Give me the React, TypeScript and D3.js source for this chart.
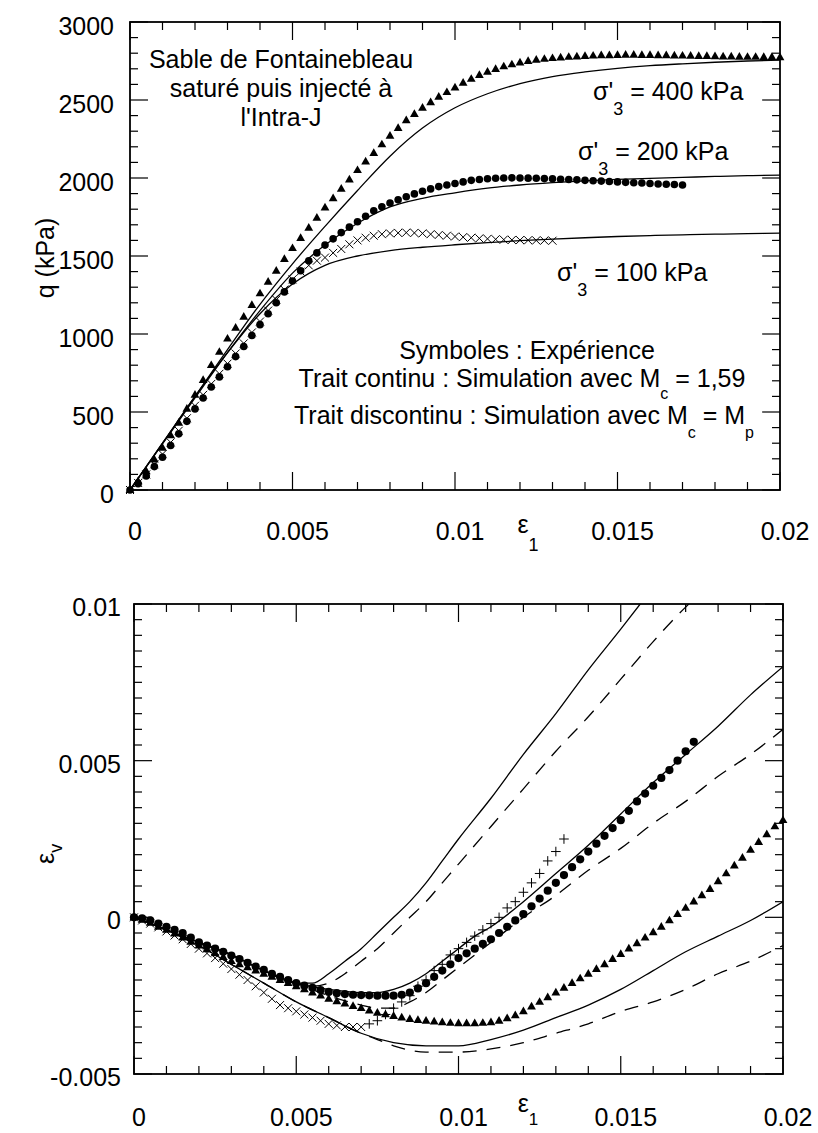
import React from "react";
import * as d3 from "d3";

// ---------- DATA ----------
// experimental strain sampling (ε1)
const STRAIN: number[] = [0,0.00025,0.0005,0.00075,0.001,0.00125,0.0015,0.00175,0.002,0.00225,0.0025,0.00275,0.003,0.00325,0.0035,0.00375,0.004,0.00425,0.0045,0.00475,0.005,0.00525,0.0055,0.00575,0.006,0.00625,0.0065,0.00675,0.007,0.00725,0.0075,0.00775,0.008,0.00825,0.0085,0.00875,0.009,0.00925,0.0095,0.00975,0.01,0.01025,0.0105,0.01075,0.011,0.01125,0.0115,0.01175,0.012,0.01225,0.0125,0.01275,0.013,0.01325,0.0135,0.01375,0.014,0.01425,0.0145,0.01475,0.015,0.01525,0.0155,0.01575,0.016,0.01625,0.0165,0.01675,0.017,0.01725,0.0175,0.01775,0.018,0.01825,0.0185,0.01875,0.019,0.01925,0.0195,0.01975,0.02];

// top chart: q (kPa) measured
const Q_400: number[] = [0,55,120,195,270,350,430,520,610,705,800,885,970,1040,1110,1185,1260,1335,1405,1480,1550,1615,1680,1745,1810,1870,1930,1990,2050,2105,2160,2215,2270,2320,2370,2410,2450,2485,2520,2550,2580,2610,2635,2660,2680,2698,2715,2728,2740,2750,2757,2763,2768,2772,2776,2779,2782,2784,2786,2787,2788,2789,2789,2788,2788,2787,2786,2785,2784,2783,2782,2781,2780,2779,2778,2777,2776,2776,2775,2775,2774];
const Q_200: number[] = [0,40,90,150,210,285,360,440,520,590,660,725,790,855,920,990,1060,1130,1200,1270,1340,1405,1470,1520,1570,1610,1650,1685,1720,1755,1790,1815,1840,1860,1880,1898,1915,1930,1945,1955,1965,1975,1985,1990,1995,1998,2000,2001,2000,1999,1998,1996,1995,1992,1990,1988,1985,1982,1980,1978,1975,1972,1970,1968,1965,1962,1960,1958,1955];
const Q_100: number[] = [0,45,100,165,230,305,380,460,540,610,680,745,810,875,940,1010,1080,1150,1220,1285,1350,1400,1440,1470,1490,1520,1545,1575,1600,1617,1630,1640,1645,1648,1650,1648,1645,1640,1635,1630,1625,1621,1617,1613,1610,1607,1605,1603,1602,1601,1600,1599,1598];

// top chart: simulations (Mc = 1,59)
const SIM_STRAIN: number[] = [0,0.001,0.002,0.003,0.004,0.005,0.006,0.007,0.008,0.009,0.01,0.011,0.012,0.013,0.014,0.015,0.016,0.017,0.018,0.019,0.02];
const SIM_Q_400: number[] = [0,300,600,900,1190,1450,1690,1920,2140,2320,2450,2540,2605,2650,2680,2703,2720,2732,2742,2750,2755];
const SIM_Q_200: number[] = [0,295,590,880,1150,1390,1570,1710,1815,1870,1905,1935,1955,1970,1982,1991,1998,2004,2010,2015,2019];
const SIM_Q_100: number[] = [0,300,600,880,1130,1320,1440,1500,1535,1556,1572,1586,1598,1608,1617,1625,1631,1636,1640,1643,1646];

// bottom chart: εv measured
const EV_200: number[] = [0,-0.00003,-0.0001,-0.0002,-0.0003,-0.0004,-0.0005,-0.00065,-0.0008,-0.0009,-0.001,-0.0011,-0.00122,-0.00133,-0.00145,-0.00157,-0.00168,-0.0018,-0.0019,-0.002,-0.0021,-0.00218,-0.00225,-0.00232,-0.00238,-0.00242,-0.00245,-0.00247,-0.00248,-0.00249,-0.0025,-0.0025,-0.0025,-0.00247,-0.0024,-0.00227,-0.0021,-0.0019,-0.0017,-0.0015,-0.0013,-0.00115,-0.001,-0.00085,-0.0007,-0.0005,-0.0003,-0.0001,0.0001,0.00035,0.0006,0.00085,0.0011,0.00135,0.0016,0.00185,0.0021,0.00235,0.0026,0.00285,0.0031,0.0034,0.0037,0.00395,0.0042,0.00445,0.0047,0.005,0.0053,0.0056];
const EV_100: number[] = [0,-0.0001,-0.0002,-0.00032,-0.00045,-0.00058,-0.0007,-0.00085,-0.001,-0.00115,-0.0013,-0.00148,-0.00165,-0.00183,-0.002,-0.0022,-0.0024,-0.0026,-0.0028,-0.0029,-0.003,-0.0031,-0.0032,-0.0033,-0.0034,-0.00345,-0.0035,-0.0035,-0.0035,-0.0034,-0.0033,-0.0031,-0.0029,-0.0027,-0.0025,-0.0022,-0.002,-0.0017,-0.0015,-0.0012,-0.001,-0.0008,-0.0006,-0.0004,-0.0002,0,0.0003,0.0005,0.0008,0.0011,0.0014,0.0018,0.0021,0.0025];
const EV_400: number[] = [0,-0.00008,-0.00018,-0.0003,-0.0004,-0.00052,-0.00065,-0.00078,-0.0009,-0.00102,-0.00115,-0.00127,-0.0014,-0.0015,-0.0016,-0.0017,-0.0018,-0.0019,-0.002,-0.0021,-0.0022,-0.0023,-0.0024,-0.0025,-0.0026,-0.00268,-0.00275,-0.00283,-0.0029,-0.00298,-0.00305,-0.0031,-0.00315,-0.0032,-0.00325,-0.00328,-0.0033,-0.00333,-0.00335,-0.00337,-0.00338,-0.00338,-0.00338,-0.00337,-0.00335,-0.0033,-0.00322,-0.00313,-0.003,-0.00285,-0.0027,-0.00255,-0.0024,-0.00225,-0.0021,-0.00195,-0.0018,-0.00165,-0.0015,-0.00133,-0.00117,-0.001,-0.00083,-0.00065,-0.00048,-0.0003,-0.0001,0.0001,0.0003,0.0005,0.0007,0.0009,0.00115,0.0014,0.00165,0.0019,0.00215,0.0024,0.00265,0.0029,0.0031];

// bottom chart: simulations
const A_STRAIN: number[] = [0,0.001,0.002,0.003,0.004,0.005,0.0055,0.006,0.0065,0.007,0.0075,0.008,0.0085,0.009,0.0095,0.01,0.011,0.012,0.013,0.014,0.015,0.0156];
const A_EV: number[] = [0,-0.0004,-0.0008,-0.0012,-0.0017,-0.0021,-0.0021,-0.0018,-0.0014,-0.001,-0.0005,0,0.0005,0.0011,0.0018,0.0025,0.0038,0.0052,0.0065,0.0079,0.0092,0.01];
const AD_STRAIN: number[] = [0,0.001,0.002,0.003,0.004,0.005,0.0055,0.006,0.0065,0.007,0.0075,0.008,0.0085,0.009,0.0095,0.01,0.011,0.012,0.013,0.014,0.015,0.016,0.017,0.0171];
const AD_EV: number[] = [0,-0.0004,-0.0008,-0.0012,-0.0017,-0.0021,-0.0022,-0.0021,-0.0018,-0.0014,-0.001,-0.0005,0,0.0005,0.0011,0.0017,0.0029,0.0041,0.0053,0.0064,0.0076,0.0088,0.0099,0.01];
const B_STRAIN: number[] = [0,0.001,0.002,0.003,0.004,0.005,0.006,0.007,0.0075,0.008,0.0085,0.009,0.0095,0.01,0.0105,0.011,0.012,0.013,0.014,0.015,0.016,0.017,0.018,0.019,0.02];
const B_EV: number[] = [0,-0.0004,-0.0008,-0.0012,-0.0017,-0.0021,-0.0023,-0.0024,-0.0024,-0.0023,-0.0021,-0.0018,-0.0014,-0.001,-0.0006,-0.0003,0.0005,0.0014,0.0023,0.0033,0.0043,0.0052,0.0061,0.0071,0.008];
const BD_STRAIN: number[] = [0,0.001,0.002,0.003,0.004,0.005,0.006,0.007,0.0075,0.008,0.0085,0.009,0.0095,0.01,0.0105,0.011,0.0115,0.012,0.013,0.014,0.015,0.016,0.017,0.018,0.019,0.02];
const BD_EV: number[] = [0,-0.0004,-0.0008,-0.0012,-0.0017,-0.0021,-0.0025,-0.0028,-0.0029,-0.0029,-0.0027,-0.0024,-0.002,-0.0016,-0.0012,-0.0008,-0.0004,0,0.0007,0.0015,0.0022,0.003,0.0037,0.0045,0.0052,0.006];
const C_STRAIN: number[] = [0,0.001,0.002,0.003,0.004,0.005,0.006,0.007,0.008,0.009,0.0095,0.01,0.011,0.012,0.013,0.014,0.015,0.016,0.017,0.018,0.019,0.02];
const C_EV: number[] = [0,-0.0004,-0.0009,-0.0015,-0.0021,-0.0027,-0.0032,-0.0037,-0.004,-0.0041,-0.0041,-0.0041,-0.0039,-0.0036,-0.0032,-0.0028,-0.0023,-0.0017,-0.0011,-0.0006,-0.0001,0.0005];
const CD_STRAIN: number[] = [0,0.001,0.002,0.003,0.004,0.005,0.006,0.007,0.0075,0.008,0.009,0.01,0.011,0.012,0.013,0.014,0.015,0.016,0.017,0.018,0.019,0.02];
const CD_EV: number[] = [0,-0.0004,-0.0009,-0.0015,-0.0021,-0.0027,-0.0032,-0.0037,-0.0039,-0.0041,-0.0043,-0.0043,-0.0042,-0.004,-0.0037,-0.0034,-0.003,-0.0027,-0.0023,-0.0018,-0.0014,-0.0009];

// tick labels
const X_TICKS: number[] = [0, 0.005, 0.01, 0.015, 0.02];
const X_TICK_LABELS: string[] = ["0", "0.005", "0.01", "0.015", "0.02"];
const Q_TICKS: number[] = [0, 500, 1000, 1500, 2000, 2500, 3000];
const Q_TICK_LABELS: string[] = ["0", "500", "1000", "1500", "2000", "2500", "3000"];
const EV_TICKS: number[] = [-0.005, 0, 0.005, 0.01];
const EV_TICK_LABELS: string[] = ["-0.005", "0", "0.005", "0.01"];

// ---------- DRAWING ----------
const FONT = "'Liberation Sans', Arial, Helvetica, sans-serif";
const W = 818, H = 1133;

type Scale = d3.ScaleLinear<number, number>;

function zip(xs: number[], ys: number[]): [number, number][] {
  return ys.map((v, i) => [xs[i], v] as [number, number]);
}

function Frame({ x, y, xMinor, xMajor, yMinor, yMajor }: { x: Scale; y: Scale; xMinor: number; xMajor: number; yMinor: number; yMajor: number }) {
  const [xa, xb] = x.range();
  const [ya, yb] = y.range();
  const xd = x.domain(), yd = y.domain();
  const xt = d3.range(0, Math.round((xd[1] - xd[0]) / xMinor) + 1).map((i) => xd[0] + i * xMinor);
  const yt = d3.range(0, Math.round((yd[1] - yd[0]) / yMinor) + 1).map((i) => yd[0] + i * yMinor);
  const isMaj = (v: number, m: number) => Math.abs(v / m - Math.round(v / m)) < 1e-6;
  const top = Math.min(ya, yb), bot = Math.max(ya, yb);
  const els: JSX.Element[] = [];
  xt.forEach((v, i) => {
    const px = x(v);
    const L = isMaj(v, xMajor) ? 18 : 8;
    els.push(<line key={"xb" + i} x1={px} x2={px} y1={bot} y2={bot - L} />);
    els.push(<line key={"xt" + i} x1={px} x2={px} y1={top} y2={top + L} />);
  });
  yt.forEach((v, i) => {
    const py = y(v);
    const L = isMaj(v, yMajor) ? 18 : 8;
    els.push(<line key={"yl" + i} x1={xa} x2={xa + L} y1={py} y2={py} />);
    els.push(<line key={"yr" + i} x1={xb} x2={xb - L} y1={py} y2={py} />);
  });
  return (
    <g stroke="#000" strokeWidth={1.2}>
      {els}
      <rect x={xa} y={top} width={xb - xa} height={bot - top} fill="none" strokeWidth={1.8} />
    </g>
  );
}

const triPath = "M0,-4.8L4.4,2.9L-4.4,2.9Z";
const xPath = "M-4,-4L4,4M-4,4L4,-4";
const plusPath = "M-4.8,0L4.8,0M0,-4.8L0,4.8";

export default function App() {
  const xTop = d3.scaleLinear().domain([0, 0.02]).range([130, 780]);
  const yTop = d3.scaleLinear().domain([0, 3000]).range([490, 22]);
  const xBot = d3.scaleLinear().domain([0, 0.02]).range([134, 783]);
  const yBot = d3.scaleLinear().domain([-0.005, 0.01]).range([1074, 604]);

  const lineTop = d3.line<[number, number]>().x((d) => xTop(d[0])).y((d) => yTop(d[1])).curve(d3.curveMonotoneX);
  const lineBot = d3.line<[number, number]>().x((d) => xBot(d[0])).y((d) => yBot(d[1])).curve(d3.curveMonotoneX);

  const txt = { fontFamily: FONT, fontSize: 25, fill: "#000" } as const;

  const sigma = (x: number, y: number, rest: string) => (
    <text x={x} y={y} {...txt}>
      σ'<tspan dy={15} fontSize={18}>3</tspan>
      <tspan dy={-15}>{" = " + rest}</tspan>
    </text>
  );

  return (
    <svg width={W} height={H} viewBox={`0 0 ${W} ${H}`} style={{ position: "absolute", left: 0, top: 0, background: "#fff" }}>
      <rect width={W} height={H} fill="#fff" />
      <defs>
        <clipPath id="clipTop"><rect x={130} y={22} width={650} height={468} /></clipPath>
        <clipPath id="clipBot"><rect x={134} y={604} width={649} height={470} /></clipPath>
      </defs>

      {/* ===== TOP CHART ===== */}
      <Frame x={xTop} y={yTop} xMinor={0.001} xMajor={0.005} yMinor={100} yMajor={500} />
      <g clipPath="url(#clipTop)" fill="none" stroke="#000" strokeWidth={1.3}>
        <path d={lineTop(zip(SIM_STRAIN, SIM_Q_400)) || ""} />
        <path d={lineTop(zip(SIM_STRAIN, SIM_Q_200)) || ""} />
        <path d={lineTop(zip(SIM_STRAIN, SIM_Q_100)) || ""} />
      </g>
      <g stroke="#000" strokeWidth={1} fill="none">
        {zip(STRAIN, Q_100).map((d, i) => (
          <path key={"c1" + i} d={xPath} transform={`translate(${xTop(d[0])},${yTop(d[1])})`} />
        ))}
      </g>
      <g fill="#000">
        {zip(STRAIN, Q_200).map((d, i) => (
          <circle key={"c2" + i} cx={xTop(d[0])} cy={yTop(d[1])} r={3.8} />
        ))}
        {zip(STRAIN, Q_400).map((d, i) => (
          <path key={"c4" + i} d={triPath} transform={`translate(${xTop(d[0])},${yTop(d[1])})`} />
        ))}
      </g>

      {Q_TICKS.map((v, i) => (
        <text key={"ql" + i} x={114} y={yTop(v) + 13} textAnchor="end" {...txt}>{Q_TICK_LABELS[i]}</text>
      ))}
      {X_TICKS.map((v, i) => (
        <text key={"xl" + i} x={xTop(v) + 5} y={540} textAnchor="middle" {...txt}>{X_TICK_LABELS[i]}</text>
      ))}
      <text x={528} y={533} textAnchor="middle" {...txt}>
        ε<tspan dy={18} fontSize={18}>1</tspan>
      </text>
      <text transform={`translate(54,258) rotate(-90)`} textAnchor="middle" {...txt}>q (kPa)</text>

      <text x={281} y={68} textAnchor="middle" {...txt}>Sable de Fontainebleau</text>
      <text x={281} y={97} textAnchor="middle" {...txt}>saturé puis injecté à</text>
      <text x={281} y={126} textAnchor="middle" {...txt}>l'Intra-J</text>

      {sigma(593, 100, "400 kPa")}
      {sigma(578, 160, "200 kPa")}
      {sigma(557, 281, "100 kPa")}

      <text x={527} y={359} textAnchor="middle" {...txt}>Symboles : Expérience</text>
      <text x={522} y={387} textAnchor="middle" {...txt}>
        Trait continu : Simulation avec M<tspan dy={12} fontSize={16}>c</tspan>
        <tspan dy={-12}> = 1,59</tspan>
      </text>
      <text x={524} y={424} textAnchor="middle" {...txt}>
        Trait discontinu : Simulation avec M<tspan dy={14} fontSize={16}>c</tspan>
        <tspan dy={-14}> = M</tspan>
        <tspan dy={14} fontSize={16}>p</tspan>
      </text>

      {/* ===== BOTTOM CHART ===== */}
      <Frame x={xBot} y={yBot} xMinor={0.001} xMajor={0.005} yMinor={0.0005} yMajor={0.005} />
      <g clipPath="url(#clipBot)" fill="none" stroke="#000" strokeWidth={1.3}>
        <path d={lineBot(zip(A_STRAIN, A_EV)) || ""} />
        <path d={lineBot(zip(B_STRAIN, B_EV)) || ""} />
        <path d={lineBot(zip(C_STRAIN, C_EV)) || ""} />
        <g strokeDasharray="14,10">
          <path d={lineBot(zip(AD_STRAIN, AD_EV)) || ""} />
          <path d={lineBot(zip(BD_STRAIN, BD_EV)) || ""} />
          <path d={lineBot(zip(CD_STRAIN, CD_EV)) || ""} />
        </g>
      </g>
      <g stroke="#000" strokeWidth={1} fill="none">
        {zip(STRAIN, EV_100).map((d, i) => {
          const rising = i > 0 && d[1] > EV_100[i - 1];
          return <path key={"b1" + i} d={rising ? plusPath : xPath} transform={`translate(${xBot(d[0])},${yBot(d[1])})`} />;
        })}
      </g>
      <g fill="#000">
        {zip(STRAIN, EV_200).map((d, i) => (
          <circle key={"b2" + i} cx={xBot(d[0])} cy={yBot(d[1])} r={4.1} />
        ))}
        {zip(STRAIN, EV_400).map((d, i) => (
          <path key={"b4" + i} d={triPath} transform={`translate(${xBot(d[0])},${yBot(d[1])})`} />
        ))}
      </g>

      {EV_TICKS.map((v, i) => (
        <text key={"el" + i} x={121} y={yBot(v) + 12} textAnchor="end" {...txt}>{EV_TICK_LABELS[i]}</text>
      ))}
      {X_TICKS.map((v, i) => (
        <text key={"xbl" + i} x={xBot(v) + 5} y={1126} textAnchor="middle" {...txt}>{X_TICK_LABELS[i]}</text>
      ))}
      <text x={528} y={1112} textAnchor="middle" {...txt}>
        ε<tspan dy={13} fontSize={17}>1</tspan>
      </text>
      <text transform={`translate(54,864) rotate(-90)`} {...txt}>
        ε<tspan dy={8} fontSize={18}>v</tspan>
      </text>
    </svg>
  );
}
